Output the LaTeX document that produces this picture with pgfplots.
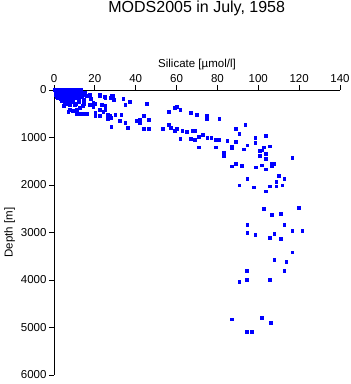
\documentclass[border=0pt]{standalone}
\usepackage{pgfplots}
\pgfplotsset{compat=1.18}
\usepackage{fontspec}
\setmainfont{Liberation Sans}
\begin{document}
\begin{tikzpicture}
\useasboundingbox (-54pt,-9pt) rectangle (297pt,375pt);
\begin{axis}[
  at={(0,0)}, anchor=south west,
  scale only axis, width=286pt, height=285pt,
  xmin=0, xmax=140, ymin=0, ymax=6000, y dir=reverse,
  axis x line*=top, axis y line*=left,
  tick align=outside, major tick length=5pt,
  xtick={0,20,...,140}, ytick={0,1000,...,6000},
  scaled y ticks=false,
  /pgf/number format/assume math mode=true,
  /pgf/number format/1000 sep={},
  tick label style={font=\fontsize{11.5}{13}\selectfont},
  label style={font=\fontsize{11.5}{13}\selectfont},
  xticklabel style={yshift=-1pt},
  yticklabel style={xshift=1pt},
  xlabel={Silicate [µmol/l]}, ylabel={Depth [m]},
  xlabel style={yshift=-2pt},
  ylabel style={yshift=-1pt},
  axis line style={line width=0.9pt},
  every tick/.style={line width=0.9pt, black},
]
\addplot[only marks, mark=square*, mark size=1.4pt, color=blue, mark options={draw=blue, fill=blue}] coordinates {
(0.5,0)(1,20)(1,50)(1.5,80)(2,10)(2,40)(2,110)(2.5,150)(3,0)(3,30)(3,70)(3,120)(3,180)
(4,10)(4,50)(4,100)(4,150)(4,210)(5,0)(5,30)(5,80)(5,130)(5,180)(5,240)
(6,10)(6,60)(6,110)(6,160)(6,220)(7,0)(7,40)(7,90)(7,140)(7,200)
(8,20)(8,70)(8,120)(8,180)(9,0)(9,50)(9,100)(9,150)(10,20)(10,70)(10,130)
(11,0)(11,40)(11,90)(12,20)(12,60)(12,110)(13,40)(13,150)(14,90)(15,60)(16,120)
(1.5,0)(2.5,60)(3.5,90)(4.5,200)(5.5,260)(6.5,280)(8.5,250)(10.3,70)(12.7,91)(13.6,112)(8.7,0)
(1,0)(2,0)(4,0)(6,0)(10,0)(12,0)(13,0)(1,100)(1.5,140)(2,170)(3.5,220)(6,190)(8,230)(9,200)(10,170)
(11,130)(12,160)(2.5,30)(3.5,50)(4.5,70)(5.5,50)(6.5,40)(7.5,60)(8.5,40)(9.5,30)(10.5,50)(11.5,20)(13,80)
(4.9,322)(7.8,316)(10.3,316)(7.8,421)(9.1,442)(7,456)(11.1,407)(12.7,365)(12.2,238)(10.8,280)
(13.9,337)(14.4,280)(12.4,491)(11.1,505)(14.4,105)
(17.3,105)(22.2,120)(25.1,154)(27.9,154)(29,112)(29.4,210)(33.9,175)(36.9,238)(34.9,301)
(14.4,196)(18.1,189)(17.6,316)(20.2,280)(23.3,301)(25.1,322)(19.2,351)(22.2,407)(25.1,407)
(24.1,463)(20.2,477)(16.3,505)(14.4,505)(26.1,512)(27.1,533)(30,526)(32.9,519)(28,575)
(26.1,610)(20.2,540)(22.2,533)(32.3,638)(35.9,786)(34.9,688)(28,765)(40.5,638)(41.8,617)
(42.1,695)(19.2,267)(28.2,126)(22.5,95)(25,140)
(45.2,295)(44,533)(42,631)(46.2,617)(44,807)(46.2,807)(53.2,807)(56,723)(57.1,786)
(58.9,856)(59.9,807)(56,449)(58.9,379)(60,358)(61.8,407)(66.9,470)(69.7,512)(74.9,533)
(74.9,596)(80.9,596)(62.8,849)(64.8,870)(67.9,863)(69,849)(61.8,1017)(66.9,1017)
(68.9,1038)(70.8,983)(72.8,933)(75,1004)(77,996)(79,1038)(80.9,1038)(70.8,1206)
(79,1206)(82.9,1312)(82.9,1389)(84.8,1059)(86.8,1185)(86.8,1227)(88.8,807)(90.7,912)
(88.8,1080)(93.6,723)(94.6,1164)(92.7,1248)(86.8,1606)(88.8,1543)(91.7,1600)(98.5,1010)
(98.5,1101)(100.5,1284)(101.5,1269)(100.5,1389)(102.6,1206)(103.6,954)(105.6,1185)
(103.6,1333)(103.6,1438)(106.6,1558)(107.5,1558)(106.6,1600)(101.7,1585)(98.7,1627)
(103.6,1669)(116.6,1431)(94.6,1867)(90.7,2006)(97.7,2048)(103.6,2132)(105.6,2027)
(108.8,1922)(108.8,2027)(109.8,1804)(111.7,2006)(112.7,1867)(102.6,2499)(119.6,2478)
(106.6,2617)(110.8,2596)(94.6,2842)(112.7,2835)(116.6,2954)(121.5,2954)(94.6,2996)
(98.5,3038)(107.8,3017)(105.6,3101)(110.8,3122)(116.6,3416)(107.8,3578)(113.7,3620)
(94.5,3810)(112.7,3810)(90.7,4034)(94.5,3992)(105.7,4000)(86.8,4827)(101.7,4793)
(105.9,4891)(94.5,5080)(96.6,5080)
};
\end{axis}
\node[font=\fontsize{16}{18}\selectfont] at (142.7pt,366.5pt) {MODS2005 in July, 1958};
\end{tikzpicture}
\end{document}
